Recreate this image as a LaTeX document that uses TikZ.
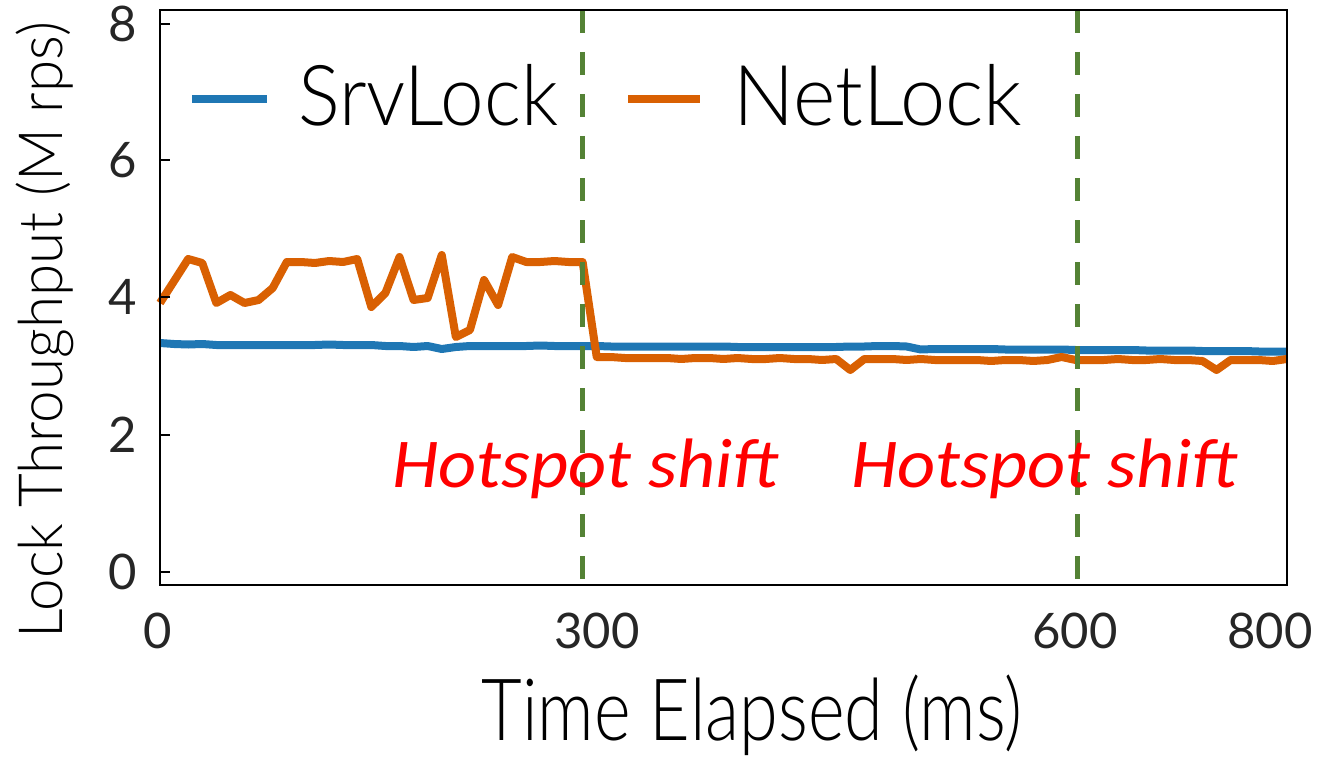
\documentclass[tikz,border=0pt]{standalone}
\usepackage{fontspec}
\usepackage{graphicx}
\IfFontExistsTF{Lato Light}{\setmainfont{Lato Light}}{\setmainfont{Lato}}
\newfontfamily\digitfont{Lato}
\newfontfamily\calib{Carlito}
\definecolor{srvblue}{RGB}{31,119,180}
\definecolor{netorange}{RGB}{217,96,2}
\definecolor{shiftgreen}{RGB}{84,130,53}
\definecolor{ticktext}{RGB}{38,38,38}
\tikzset{
  frame/.style={draw=black, line width=2.5pt},
  ytick/.style={draw=black, line width=1.2pt},
  shiftline/.style={draw=shiftgreen, line width=5pt, dash pattern=on 23pt off 19pt},
  srvline/.style={draw=srvblue, line width=8pt, line join=round, line cap=butt},
  netline/.style={draw=netorange, line width=8pt, line join=round, line cap=butt},
  ticklabel/.style={inner sep=0pt, text=ticktext, font=\digitfont\fontsize{49}{49}\selectfont},
  legendtext/.style={inner sep=0pt, anchor=base west, font=\fontsize{84}{84}\selectfont},
  note/.style={inner sep=0pt, anchor=base west, text=red, font=\calib\itshape\fontsize{70}{70}\selectfont},
}
\begin{document}
\begin{tikzpicture}[x=1pt, y=-1pt]
\useasboundingbox (0,0) rectangle (1319,757);

% data series: one sample every 10 ms
\begin{scope}[xshift=160pt, x=14.0875pt]
\draw[srvline] plot coordinates {
 (0,343) (1,344) (2,344.5) (3,344) (4,345) (5,345) (6,345) (7,345) (8,345) (9,345)
 (10,345) (11,345) (12,344.5) (13,345) (14,345) (15,345) (16,346) (17,346) (18,347) (19,346)
 (20,349) (21,347) (22,346) (23,346) (24,346) (25,346) (26,346) (27,345.5) (28,346) (29,346)
 (30,346) (31,346) (32,346.5) (33,346.5) (34,346.5) (35,346.5) (36,346.5) (37,346.5) (38,346.5) (39,346.5)
 (40,346.5) (41,347) (42,347) (43,347) (44,347) (45,347) (46,347) (47,347) (48,347) (49,346.5)
 (50,346.5) (51,346) (52,346) (53,346.5) (54,349.5) (55,349) (56,349) (57,349) (58,349) (59,349)
 (60,349.5) (61,349.5) (62,349.5) (63,349.5) (64,349.5) (65,350) (66,350) (67,350) (68,350) (69,350)
 (70,350.5) (71,350.5) (72,350.5) (73,350.5) (74,351) (75,351) (76,351) (77,351) (78,351.5) (79,351.5)
 (80,351.5)};
\draw[netline] plot coordinates {
 (0,303) (1,281) (2,259) (3,263) (4,303) (5,295) (6,303) (7,300) (8,288) (9,262)
 (10,262) (11,263) (12,261) (13,262) (14,259) (15,307) (16,293) (17,257) (18,300) (19,298)
 (20,255) (21,337) (22,330) (23,280) (24,305) (25,257) (26,262) (27,262) (28,261) (29,262)
 (30,262) (31,357) (32,357) (33,358) (34,358) (35,358) (36,358) (37,359) (38,358) (39,358)
 (40,359) (41,358) (42,359) (43,359) (44,358) (45,359) (46,359) (47,360) (48,359) (49,370)
 (50,359) (51,359) (52,359) (53,360) (54,359) (55,360) (56,360) (57,360) (58,360) (59,361)
 (60,360) (61,360) (62,361) (63,360) (64,357) (65,360) (66,360) (67,360) (68,359) (69,360)
 (70,360) (71,359) (72,360) (73,360) (74,361) (75,370) (76,360) (77,360) (78,360) (79,361)
 (80,359)};
\end{scope}

% hotspot shift markers
\coordinate (s1top) at (582,10);
\coordinate (s1bot) at (582,585);
\coordinate (s2top) at (1077,10);
\coordinate (s2bot) at (1077,585);
\draw[shiftline] (s1top) -- (s1bot);
\draw[shiftline] (s2top) -- (s2bot);

% axes frame and y ticks
\draw[frame] (160,10) rectangle (1287,585);
\foreach \yv/\lab in {572/0, 435/2, 297/4, 160/6, 24/8} {
  \draw[ytick] (160,\yv) -- (170,\yv);
  \node[ticklabel, anchor=base east] (yl\lab) at (137,\yv+17.5) {\lab};
}

% x tick labels
\node[ticklabel, anchor=base] (xl0) at (158,648) {0};
\node[ticklabel, anchor=base] (xl300) at (597,648) {300};
\node[ticklabel, anchor=base] (xl600) at (1075,648) {600};
\node[ticklabel, anchor=base] (xl800) at (1270,648) {800};

% axis titles
\node[inner sep=0pt, anchor=base] (xtitle) at (752,740)
  {\resizebox{541pt}{\height}{\fontsize{86}{86}\selectfont Time Elapsed (ms)}};
\node[inner sep=0pt, anchor=base, rotate=90] (ytitle) at (62,330)
  {\resizebox{616pt}{\height}{\fontsize{61}{61}\selectfont Lock Throughput (M rps)}};

% legend
\coordinate (lg1a) at (192,99);
\coordinate (lg1b) at (267,99);
\coordinate (lg2a) at (628,99);
\coordinate (lg2b) at (700,99);
\draw[srvline] (lg1a) -- (lg1b);
\draw[netline] (lg2a) -- (lg2b);
\node[legendtext] (lsrv) at (298,125) {\resizebox{260pt}{\height}{SrvLock}};
\node[legendtext] (lnet) at (733,125) {\resizebox{289pt}{\height}{NetLock}};

% annotations
\node[note] (hs1) at (392,487) {\resizebox{386pt}{\height}{Hotspot shift}};
\node[note] (hs2) at (851,487) {\resizebox{386pt}{\height}{Hotspot shift}};
\end{tikzpicture}
\end{document}
